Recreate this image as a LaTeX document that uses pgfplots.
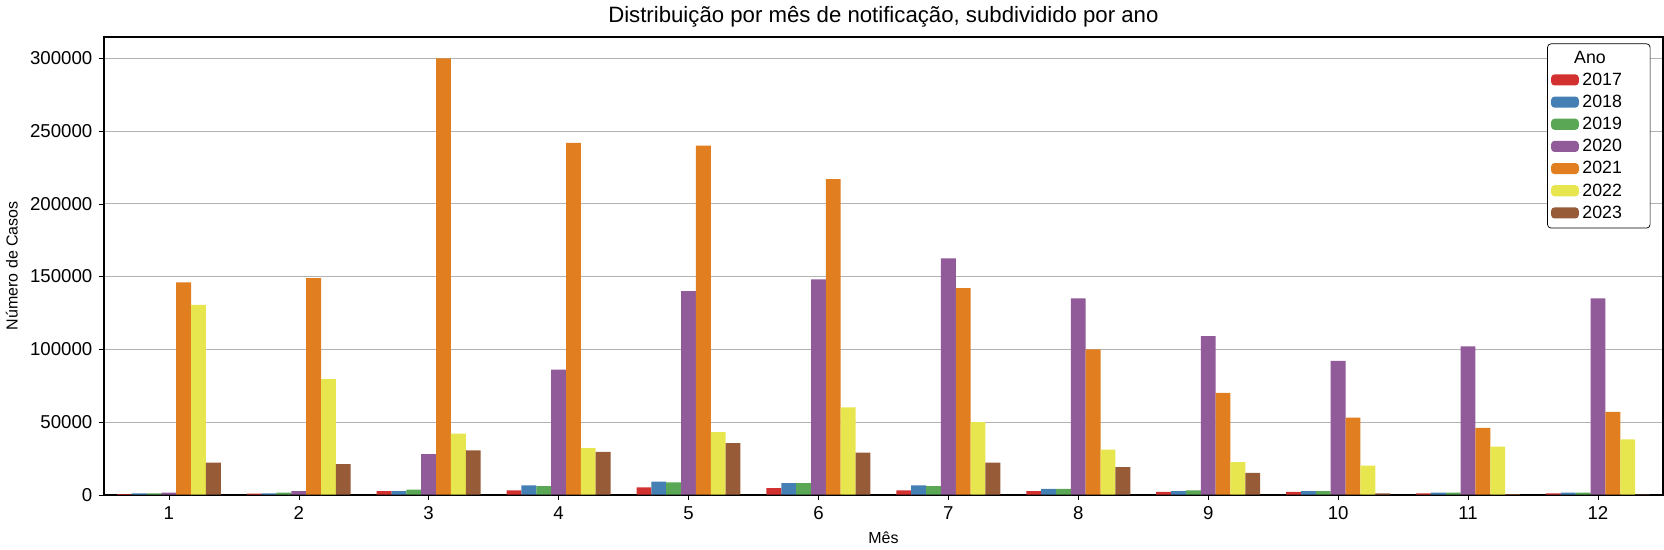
\documentclass[border=0pt]{standalone}
\usepackage{pgfplots}
\pgfplotsset{compat=1.18}
\usepackage{fontspec}
\setmainfont{Liberation Sans}
\definecolor{c17}{HTML}{D3312F}
\definecolor{c18}{HTML}{4480B4}
\definecolor{c19}{HTML}{5AA755}
\definecolor{c20}{HTML}{915B9A}
\definecolor{c21}{HTML}{E07E20}
\definecolor{c22}{HTML}{E8E64E}
\definecolor{c23}{HTML}{985B38}
\begin{document}
\begin{tikzpicture}
\begin{axis}[
 width=878pt, height=258pt, scale only axis,
 xmin=0.5, xmax=12.5, ymin=0, ymax=315000,
 xtick={1,...,12}, ytick={0,50000,...,300000},
 xtick pos=bottom, ytick pos=left,
 scaled y ticks=false, yticklabel style={/pgf/number format/fixed,/pgf/number format/1000 sep={}},
 /pgf/number format/assume math mode=true,
 ticklabel style={font=\fontsize{10.5}{12}\selectfont},
 ymajorgrids, grid style={gray!60},
 axis line style={line width=1.2pt},
 tick align=outside, tick style={black}, major tick length=3pt,
 xlabel={Mês}, ylabel={Número de Casos},
 label style={font=\fontsize{9}{11}\selectfont},
 title={Distribuição por mês de notificação, subdividido por ano},
 title style={font=\fontsize{12.5}{14}\selectfont, yshift=-4pt},
 ybar, bar width=0.1143, 
 legend style={at={(0.992,0.985)}, anchor=north east, font=\fontsize{10}{12}\selectfont, draw=black, rounded corners=2pt, row sep=0pt, inner sep=2pt},
 legend cell align=left,
 legend image code/.code={\fill[#1] (0cm,-0.1cm) rectangle (0.55cm,0.12cm);},
]
\addlegendimage{empty legend}
\addplot[fill=c17,draw=none,bar shift=-0.3429] coordinates {(1,500)(2,800)(3,2500)(4,3000)(5,5000)(6,4500)(7,3000)(8,2500)(9,2000)(10,2000)(11,1000)(12,1000)};
\addplot[fill=c18,draw=none,bar shift=-0.2286] coordinates {(1,1000)(2,1000)(3,2500)(4,6500)(5,9000)(6,8000)(7,6500)(8,4000)(9,2500)(10,2500)(11,1500)(12,1500)};
\addplot[fill=c19,draw=none,bar shift=-0.1143] coordinates {(1,1000)(2,1500)(3,3500)(4,6000)(5,8500)(6,8000)(7,6000)(8,4000)(9,3000)(10,2500)(11,1500)(12,1500)};
\addplot[fill=c20,draw=none,bar shift=0] coordinates {(1,1500)(2,2500)(3,28000)(4,86000)(5,140000)(6,148000)(7,162500)(8,135000)(9,109000)(10,92000)(11,102000)(12,135000)};
\addplot[fill=c21,draw=none,bar shift=0.1143] coordinates {(1,146000)(2,149000)(3,300000)(4,242000)(5,240000)(6,217000)(7,142000)(8,100000)(9,70000)(10,53000)(11,46000)(12,57000)};
\addplot[fill=c22,draw=none,bar shift=0.2286] coordinates {(1,130500)(2,79500)(3,42000)(4,32000)(5,43000)(6,60000)(7,50000)(8,31000)(9,22500)(10,20000)(11,33000)(12,38000)};
\addplot[fill=c23,draw=none,bar shift=0.3429] coordinates {(1,22000)(2,21000)(3,30500)(4,29500)(5,35500)(6,29000)(7,22000)(8,19000)(9,15000)(10,1000)(11,500)(12,300)};
\legend{\hspace{-0.9cm}\makebox[2.1cm]{Ano},2017,2018,2019,2020,2021,2022,2023}
\end{axis}
\end{tikzpicture}
\end{document}
